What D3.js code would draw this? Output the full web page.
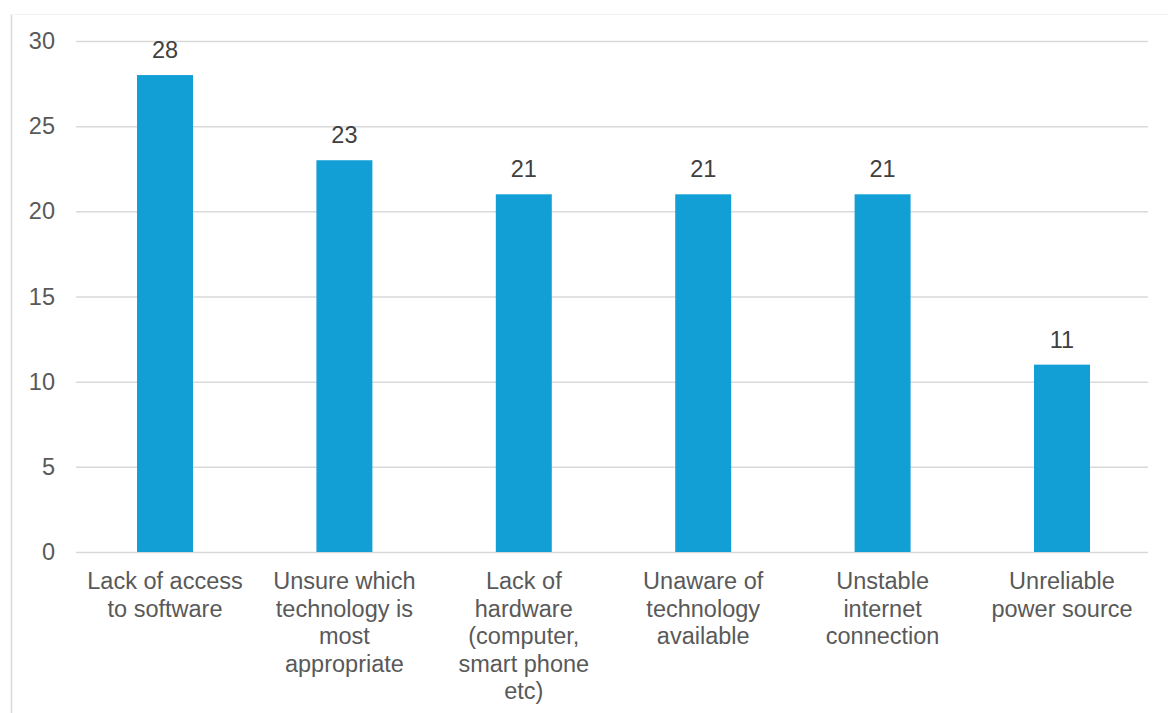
<!DOCTYPE html>
<html>
<head>
<meta charset="utf-8">
<script src="https://cdn.jsdelivr.net/npm/d3@7"></script>
<style>
  html, body { margin: 0; padding: 0; background: #fff; }
  svg { display: block; font-family: "Liberation Sans", Arial, sans-serif; }
</style>
</head>
<body>
<svg id="chart" width="1168" height="713"></svg>
<script>
// Barriers to technology use (count of responses)
const categories = [
  "Lack of access\nto software",
  "Unsure which\ntechnology is\nmost\nappropriate",
  "Lack of\nhardware\n(computer,\nsmart phone\netc)",
  "Unaware of\ntechnology\navailable",
  "Unstable\ninternet\nconnection",
  "Unreliable\npower source"
];
const values = [28, 23, 21, 21, 21, 11];
const yTicks = [0, 5, 10, 15, 20, 25, 30];

const W = 1168, H = 713;
const plot = { left: 76, right: 1148, top: 41, bottom: 552 };
const textColor = "#595959";
const gridColor = "#d9d9d9";
const barColor = "#129fd6";
const fontSize = 23.5;

const svg = d3.select("#chart");

// chart frame (left edge and faint top edge)
svg.append("line")
  .attr("x1", 11.5).attr("x2", 11.5).attr("y1", 14).attr("y2", H)
  .attr("stroke", "#d9d9d9").attr("stroke-width", 1.5);
svg.append("line")
  .attr("x1", 11).attr("x2", W).attr("y1", 14.5).attr("y2", 14.5)
  .attr("stroke", "#f3f3f3").attr("stroke-width", 1);

const x = d3.scaleBand()
  .domain(d3.range(categories.length))
  .range([75.3, 1151.7])
  .paddingInner(0.688)
  .paddingOuter(0.344);

const y = d3.scaleLinear()
  .domain([0, 30])
  .range([plot.bottom, plot.top]);

// horizontal gridlines
const yAxis = d3.axisLeft(y)
  .tickValues(yTicks)
  .tickSize(-(plot.right - plot.left))
  .tickPadding(21);

const gy = svg.append("g")
  .attr("transform", `translate(${plot.left},0)`)
  .call(yAxis);
gy.select(".domain").remove();
gy.selectAll(".tick line").attr("stroke", gridColor).attr("stroke-width", 1.5);
gy.selectAll(".tick text")
  .attr("fill", textColor)
  .attr("font-size", fontSize)
  .attr("font-family", "Liberation Sans, Arial, sans-serif");

// bars
svg.append("g").selectAll("rect")
  .data(values)
  .join("rect")
  .attr("x", (d, i) => x(i))
  .attr("width", x.bandwidth())
  .attr("y", d => y(d))
  .attr("height", d => y(0) - y(d))
  .attr("fill", barColor);

// value labels
svg.append("g").selectAll("text")
  .data(values)
  .join("text")
  .attr("x", (d, i) => x(i) + x.bandwidth() / 2)
  .attr("y", d => y(d) - 17)
  .attr("text-anchor", "middle")
  .attr("fill", "#404040")
  .attr("font-size", fontSize)
  .text(d => d);

// category labels
const lineH = 27.6;
const gx = svg.append("g");
categories.forEach((c, i) => {
  const t = gx.append("text")
    .attr("x", x(i) + x.bandwidth() / 2)
    .attr("y", y(0) + 37)
    .attr("text-anchor", "middle")
    .attr("fill", textColor)
    .attr("font-size", fontSize);
  c.split("\n").forEach((line, k) => {
    t.append("tspan")
      .attr("x", x(i) + x.bandwidth() / 2)
      .attr("dy", k === 0 ? 0 : lineH)
      .text(line);
  });
});
</script>
</body>
</html>
